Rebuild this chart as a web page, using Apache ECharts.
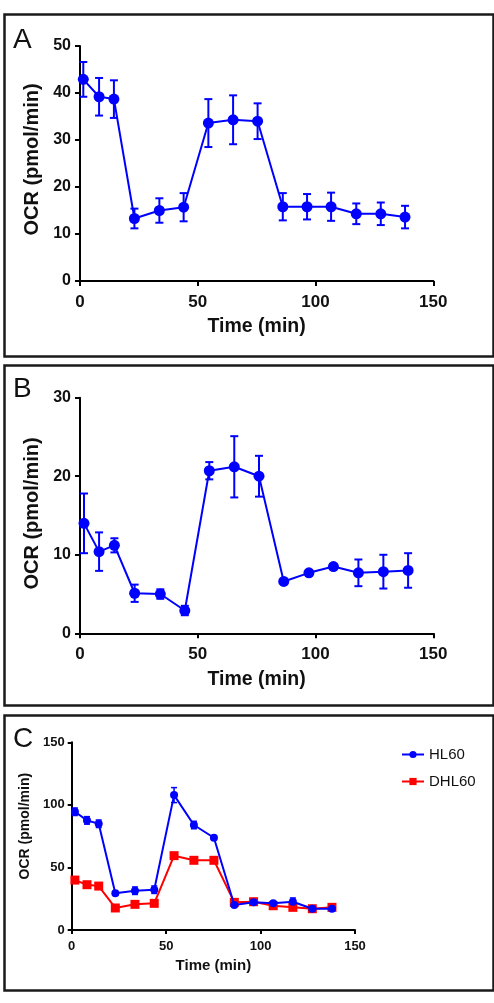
<!DOCTYPE html>
<html><head><meta charset="utf-8">
<script src="https://cdn.jsdelivr.net/npm/echarts@6/dist/echarts.min.js"></script>
<style>html,body{margin:0;padding:0;background:#fff}#c{width:494px;height:1003px}</style>
</head><body><div id="c"></div>
<script>
// Panel A
var timeA = [1.4, 8.1, 14.4, 23.1, 33.7, 44.0, 54.5, 65.0, 75.4, 86.1, 96.4, 106.6, 117.3, 127.7, 138.0];
var ocrA = [42.9, 39.2, 38.7, 13.3, 15.0, 15.7, 33.6, 34.3, 34.0, 15.8, 15.8, 15.8, 14.3, 14.3, 13.6];
var errA = [3.7, 4.0, 4.0, 2.1, 2.6, 3.0, 5.1, 5.2, 3.8, 2.9, 2.7, 3.0, 2.2, 2.4, 2.4];
// Panel B
var timeB = [1.7, 8.1, 14.6, 23.2, 34.1, 44.5, 54.9, 65.5, 76.0, 86.5, 97.2, 107.6, 118.2, 128.8, 139.3];
var ocrB = [14.0, 10.4, 11.2, 5.1, 5.0, 2.9, 20.7, 21.2, 20.0, 6.6, 7.7, 8.5, 7.7, 7.85, 8.0];
var errB = [3.8, 2.45, 0.9, 1.1, 0.6, 0.6, 1.1, 3.9, 2.6, 0.2, 0.3, 0.3, 1.7, 2.15, 2.2];
// Panel C
var timeC = [1.7, 8.1, 14.3, 23.1, 33.5, 43.7, 54.2, 64.7, 75.3, 86.1, 96.3, 106.7, 117.1, 127.4, 137.8];
var hl60 = [94.5, 87.6, 84.9, 29.3, 31.4, 32.2, 107.8, 83.9, 73.7, 20.0, 22.1, 21.3, 22.6, 17.0, 17.0];
var hl60Err = [3, 3, 3, 1.5, 3, 3, 6, 3, 1, 1, 1, 1, 3, 1, 1];
var dhl60 = [39.9, 36.2, 35.1, 17.6, 20.5, 21.3, 59.4, 55.7, 55.7, 22.1, 22.6, 19.4, 18.1, 17.0, 18.1];
var dhl60Err = [2, 1, 1, 1, 1, 1, 1.5, 1, 1, 1, 1, 1, 1, 1, 1];
var xTicks = [0, 50, 100, 150];
var yTicksA = [0, 10, 20, 30, 40, 50];
var yTicksB = [0, 10, 20, 30];
var yTicksC = [0, 50, 100, 150];
var seriesNames = ['HL60', 'DHL60'];
var panelLabels = ['A', 'B', 'C'];

var FONT = '"Liberation Sans", Arial, sans-serif';
var BLUE = '#0000ff', RED = '#ff0000';

function pts(t, v) { return t.map(function (x, i) { return [x, v[i]]; }); }
function errs(t, v, e) { return t.map(function (x, i) { return [x, v[i] - e[i], v[i] + e[i]]; }); }

function errSeries(gi, data, color, cap, lw) {
  return {
    type: 'custom', xAxisIndex: gi, yAxisIndex: gi, data: data, silent: true, z: 1,
    renderItem: function (params, api) {
      var x = api.value(0);
      var lo = api.coord([x, api.value(1)]);
      var hi = api.coord([x, api.value(2)]);
      var st = { stroke: color, lineWidth: lw };
      return { type: 'group', children: [
        { type: 'line', shape: { x1: lo[0], y1: lo[1], x2: hi[0], y2: hi[1] }, style: st },
        { type: 'line', shape: { x1: lo[0] - cap, y1: lo[1], x2: lo[0] + cap, y2: lo[1] }, style: st },
        { type: 'line', shape: { x1: hi[0] - cap, y1: hi[1], x2: hi[0] + cap, y2: hi[1] }, style: st }
      ]};
    }
  };
}

function xAxis(gi, fs, margin, nameFs, nameGap, tickLen) {
  return {
    gridIndex: gi, type: 'value', min: xTicks[0], max: xTicks[xTicks.length - 1], interval: xTicks[1] - xTicks[0],
    name: 'Time (min)', nameLocation: 'middle', nameGap: nameGap,
    nameTextStyle: { fontFamily: FONT, fontWeight: 'bold', fontSize: nameFs, color: '#111' },
    axisLine: { onZero: false, lineStyle: { color: '#000', width: 2 } },
    axisTick: { length: tickLen, lineStyle: { color: '#000', width: 2 } },
    axisLabel: { fontFamily: FONT, fontWeight: 'bold', fontSize: fs, color: '#111', margin: margin },
    splitLine: { show: false }
  };
}
function yAxis(gi, ticks, fs, margin, nameFs, nameGap, tickLen, shiftUp) {
  return {
    gridIndex: gi, type: 'value', min: ticks[0], max: ticks[ticks.length - 1], interval: ticks[1] - ticks[0],
    name: 'OCR (pmol/min)', nameLocation: 'middle', nameGap: nameGap, nameRotate: 90,
    nameTextStyle: { fontFamily: FONT, fontWeight: 'bold', fontSize: nameFs, color: '#111',
      padding: [0, 0, 0, shiftUp * 2] },
    axisLine: { onZero: false, lineStyle: { color: '#000', width: 2 } },
    axisTick: { length: tickLen, lineStyle: { color: '#000', width: 2 } },
    axisLabel: { fontFamily: FONT, fontWeight: 'bold', fontSize: fs, color: '#111', margin: margin },
    splitLine: { show: false }
  };
}

function boxRect(y, h) {
  return { type: 'rect', left: 2, top: y, shape: { x: 0, y: 0, width: 489, height: h },
    style: { fill: 'none', stroke: '#1a1a1a', lineWidth: 2.5 }, z: -1 };
}
function panelText(t, x, y, fs) {
  return { type: 'text', left: x, top: y, style: { text: t, font: 'normal ' + fs + 'px ' + FONT, fill: '#111' } };
}

var option = {
  animation: false,
  backgroundColor: '#fff',
  graphic: [
    boxRect(12, 342), boxRect(363, 340), boxRect(713, 275),
    panelText(panelLabels[0], 13, 26, 28),
    panelText(panelLabels[1], 13, 375, 28),
    panelText(panelLabels[2], 13, 725, 28)
  ],
  legend: {
    data: seriesNames, orient: 'vertical', left: 396, top: 742, itemGap: 12,
    itemWidth: 22, itemHeight: 9,
    textStyle: { fontFamily: FONT, fontSize: 15, color: '#111' }
  },
  grid: [
    { left: 80, top: 46, width: 353.3, height: 235 },
    { left: 80, top: 397.7, width: 353.3, height: 235.6 },
    { left: 71.7, top: 742.3, width: 283.3, height: 187.7 }
  ],
  xAxis: [ xAxis(0, 17, 13, 19.5, 36, 5), xAxis(1, 17, 13, 19.5, 36, 5), xAxis(2, 13, 10, 15, 28, 4) ],
  yAxis: [ yAxis(0, yTicksA, 16, 9, 20, 35, 5, 4), yAxis(1, yTicksB, 16, 9, 20, 35, 5, 2), yAxis(2, yTicksC, 13, 7, 14, 33, 4, 10) ],
  series: [
    errSeries(0, errs(timeA, ocrA, errA), BLUE, 4, 2),
    { type: 'line', xAxisIndex: 0, yAxisIndex: 0, data: pts(timeA, ocrA), symbol: 'circle', symbolSize: 11,
      itemStyle: { color: BLUE }, lineStyle: { color: BLUE, width: 2 }, z: 3 },
    errSeries(1, errs(timeB, ocrB, errB), BLUE, 4, 2),
    { type: 'line', xAxisIndex: 1, yAxisIndex: 1, data: pts(timeB, ocrB), symbol: 'circle', symbolSize: 11,
      itemStyle: { color: BLUE }, lineStyle: { color: BLUE, width: 2 }, z: 3 },
    errSeries(2, errs(timeC, dhl60, dhl60Err), RED, 3, 1.5),
    { name: seriesNames[1], type: 'line', xAxisIndex: 2, yAxisIndex: 2, data: pts(timeC, dhl60), symbol: 'rect', symbolSize: 9,
      itemStyle: { color: RED }, lineStyle: { color: RED, width: 2 }, z: 3 },
    errSeries(2, errs(timeC, hl60, hl60Err), BLUE, 3, 1.5),
    { name: seriesNames[0], type: 'line', xAxisIndex: 2, yAxisIndex: 2, data: pts(timeC, hl60), symbol: 'circle', symbolSize: 8,
      itemStyle: { color: BLUE }, lineStyle: { color: BLUE, width: 2 }, z: 4 }
  ]
};
var chart = echarts.init(document.getElementById('c'), null, { renderer: 'canvas' });
chart.setOption(option);
</script></body></html>
